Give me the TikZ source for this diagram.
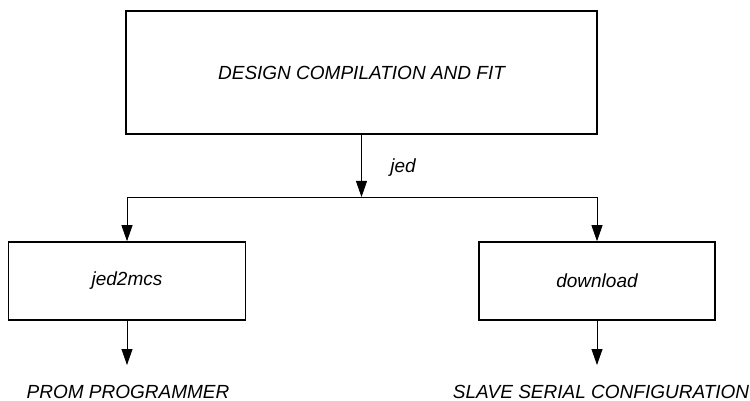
\documentclass[tikz,border=0pt]{standalone}
\usepackage{fontspec}
\setmainfont{Liberation Sans}
\usetikzlibrary{arrows.meta}
\begin{document}
\begin{tikzpicture}[x=1pt,y=-1pt,
  box/.style={draw, line width=1.6pt, inner sep=0pt, font=\itshape\fontsize{19}{22}\selectfont},
  lbl/.style={font=\itshape\fontsize{19}{22}\selectfont, inner sep=0pt},
  arr/.style={line width=0.8pt, -{Triangle[length=16pt,width=11pt]}}]
\useasboundingbox (0,0) rectangle (750,401);
\node[box, minimum width=471pt, minimum height=123pt] (top) at (361.5,72.5) {DESIGN COMPILATION AND FIT};
\node[box, minimum width=237pt, minimum height=78pt] (left) at (127,281) {jed2mcs};
\node[box, minimum width=236pt, minimum height=78pt] (right) at (597,281) {download};
\coordinate (split) at (361.5,197);
\node[lbl] (jed) at (403,168) {jed};
\node[lbl] (prom) at (128,392) {PROM PROGRAMMER};
\node[lbl] (slave) at (601,392) {SLAVE SERIAL CONFIGURATION};
\coordinate (le) at (127,365);
\coordinate (re) at (597,365);
\draw[arr] (top.south) -- (split);
\draw[arr] (split) -| (left.north);
\draw[arr] (split) -| (right.north);
\draw[arr] (left.south) -- (le);
\draw[arr] (right.south) -- (re);
\end{tikzpicture}
\end{document}
